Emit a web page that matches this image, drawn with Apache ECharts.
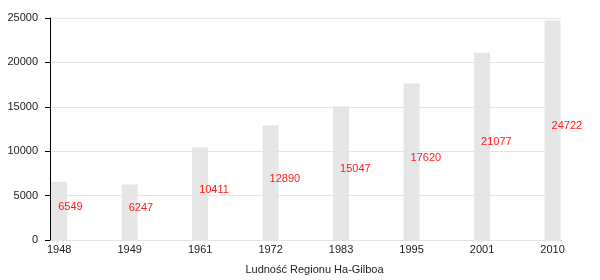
<!DOCTYPE html>
<html><head><meta charset="utf-8">
<script src="https://cdn.jsdelivr.net/npm/echarts@6/dist/echarts.min.js"></script>
<style>html,body{margin:0;padding:0;background:#fff}#c{width:600px;height:280px}</style>
</head><body><div id="c"></div>
<script>
const years = ['1948','1949','1961','1972','1983','1995','2001','2010'];
const population = [6549,6247,10411,12890,15047,17620,21077,24722];
const yTicks = [0,5000,10000,15000,20000,25000];
const axisTitle = 'Ludność Regionu Ha-Gilboa';

const font = 'Liberation Sans, Arial, sans-serif';
const chart = echarts.init(document.getElementById('c'), null, {renderer:'canvas'});
chart.setOption({
  animation:false,
  grid:{left:50,right:39,top:18,bottom:40},
  xAxis:{
    type:'value', min:-0.13, max:7.12,
    axisLine:{show:true,onZero:false,lineStyle:{color:'#000',width:1}},
    axisTick:{show:false},
    splitLine:{show:false},
    axisLabel:{customValues:years.map((y,i)=>i), formatter:v=>years[Math.round(v)], color:'#222', fontFamily:font, fontSize:11, margin:4},
    name:axisTitle, nameLocation:'middle', nameGap:22,
    nameTextStyle:{color:'#222', fontFamily:font, fontSize:11, padding:[2,0,0,18]}
  },
  yAxis:{
    type:'value', min:yTicks[0], max:yTicks[yTicks.length-1], interval:5000,
    z:5,
    axisLine:{show:true,onZero:false,lineStyle:{color:'#000',width:1}},
    axisTick:{show:true,length:5,lineStyle:{color:'#000',width:1}},
    splitLine:{show:true,lineStyle:{color:'#e4e4e4',width:1}},
    axisLabel:{color:'#222', fontFamily:font, fontSize:11, margin:12, formatter:v=>String(v)}
  },
  series:[{
    type:'bar',
    barWidth:16,
    data:population.map((v,i)=>[i,v]),
    itemStyle:{color:'#e6e6e6'},
    label:{show:true, position:['50%','50%'], align:'left', verticalAlign:'middle', offset:[-1,-4],
      formatter:p=>p.value[1], color:'#ff1a1a', fontFamily:font, fontSize:11}
  }]
});
</script></body></html>
